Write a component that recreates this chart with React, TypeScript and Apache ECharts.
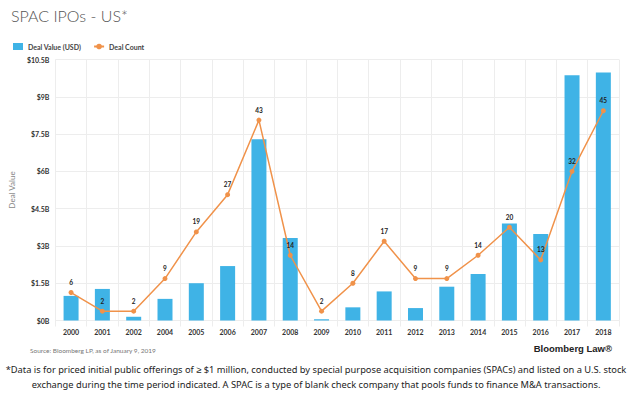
import React, { useEffect, useRef } from "react";
import * as echarts from "echarts";

const years = ["2000","2001","2002","2004","2005","2006","2007","2008","2009","2010","2011","2012","2013","2014","2015","2016","2017","2018"];
const dealValue = [0.99,1.27,0.15,0.87,1.5,2.19,7.29,3.32,0.05,0.53,1.17,0.5,1.36,1.87,3.9,3.48,9.87,9.98];
const dealCount = [6,2,2,9,19,27,43,14,2,8,17,9,9,14,20,13,32,45];
const yTicks = { min: 0, max: 10.5, interval: 1.5 };

const BLUE = "#3fb3e6";
const ORANGE = "#f0924a";
const GRID = "#ededed";

export default function App() {
  const ref = useRef<HTMLDivElement>(null);
  useEffect(() => {
    const chart = echarts.init(ref.current!, null, { renderer: "svg" });
    const font = "Lato, 'Noto Sans', sans-serif";
    chart.setOption({
      animation: false,
      backgroundColor: "#ffffff",
      textStyle: { fontFamily: font },
      title: {
        text: "SPAC IPOs - US*",
        left: 6,
        top: 2,
        textStyle: { fontSize: 16, fontWeight: 300, color: "#555", fontFamily: font },
      },
      legend: {
        left: 8,
        top: 38,
        itemGap: 12,
        itemWidth: 10,
        itemHeight: 7,
        textStyle: { fontSize: 7, fontWeight: "bold", color: "#444", fontFamily: font },
        data: [
          { name: "Deal Value (USD)", icon: "rect", itemStyle: { color: BLUE } },
          { name: "Deal Count" },
        ],
      },
      grid: { left: 50, right: 14, top: 59.5, bottom: 77.5 },
      xAxis: {
        type: "category",
        data: years,
        axisLine: { show: true, lineStyle: { color: GRID } },
        axisTick: { show: true, length: 6, lineStyle: { color: GRID } },
        splitLine: { show: true, lineStyle: { color: GRID } },
        axisLabel: { fontSize: 7, fontWeight: "bold", color: "#333", margin: 8, fontFamily: font },
      },
      yAxis: [
        {
          type: "value",
          min: yTicks.min,
          max: yTicks.max,
          interval: yTicks.interval,
          name: "Deal Value",
          nameLocation: "middle",
          nameGap: 32,
          nameTextStyle: { fontSize: 8, color: "#888", fontFamily: font },
          axisLine: { show: false },
          axisTick: { show: false },
          splitLine: { show: true, lineStyle: { color: GRID } },
          axisLabel: {
            fontSize: 7,
            fontWeight: "bold",
            color: "#333",
            margin: 6,
            fontFamily: font,
            formatter: (v: number) => `$${v}B`,
          },
        },
        {
          type: "value",
          min: 0,
          max: 56,
          show: false,
          splitLine: { show: false },
        },
      ],
      series: [
        {
          name: "Deal Value (USD)",
          type: "bar",
          data: dealValue,
          barWidth: 15,
          itemStyle: { color: BLUE },
        },
        {
          name: "Deal Count",
          type: "line",
          yAxisIndex: 1,
          data: dealCount,
          symbol: "circle",
          symbolSize: 5,
          lineStyle: { color: ORANGE, width: 1.5 },
          itemStyle: { color: ORANGE },
          label: {
            show: true,
            position: "top",
            distance: 4,
            fontSize: 6.5,
            fontWeight: "bold",
            color: "#222",
            fontFamily: font,
          },
        },
      ],
      graphic: [
        {
          type: "text",
          left: 30,
          top: 347,
          style: { text: "Source: Bloomberg LP, as of January 9, 2019", fontSize: 6.5, fill: "#777", fontFamily: font },
        },
        {
          type: "text",
          right: 21,
          top: 343,
          style: { text: "Bloomberg Law®", fontSize: 9.5, fontWeight: "bold", fill: "#222", fontFamily: "'Liberation Sans', Arial, sans-serif" },
        },
        {
          type: "text",
          x: 316,
          y: 362,
          style: {
            text: "*Data is for priced initial public offerings of ≥ $1 million, conducted by special purpose acquisition companies (SPACs) and listed on a U.S. stock\nexchange during the time period indicated. A SPAC is a type of blank check company that pools funds to finance M&A transactions.",
            fontSize: 9.3,
            lineHeight: 15,
            align: "center",
            fill: "#222",
            fontFamily: "'Noto Sans', sans-serif",
          },
        },
      ],
    });
    return () => chart.dispose();
  }, []);
  return <div ref={ref} style={{ position: "fixed", left: 0, top: 0, width: 633, height: 398 }} />;
}
